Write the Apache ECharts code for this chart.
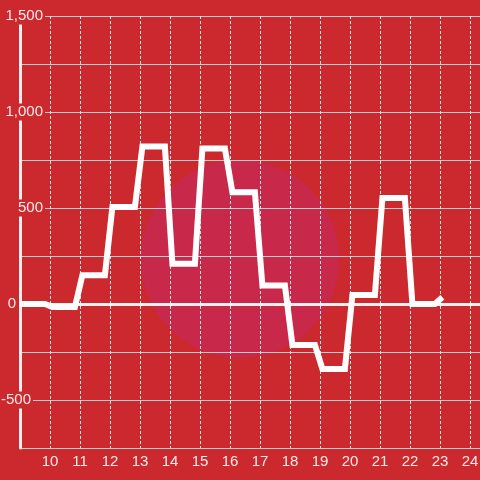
<!DOCTYPE html>
<html>
<head>
<meta charset="utf-8">
<script src="https://cdn.jsdelivr.net/npm/echarts@6/dist/echarts.min.js"></script>
<style>
  body { margin: 0; }
</style>
</head>
<body>
<div id="chart" style="width: 480px; height: 480px"></div>
<script>
// step-like hourly readings: each value held, then a short ramp to the next
const times = [9, 9.83, 10.08, 10.83, 11.08, 11.83, 12.08, 12.83, 13.08, 13.83,
  14.08, 14.83, 15.08, 15.83, 16.08, 16.83, 17.08, 17.83, 18.08, 18.83,
  19.08, 19.83, 20.08, 20.83, 21.08, 21.83, 22.08, 22.83, 23.08];
const values = [0, 0, -15, -15, 150, 150, 505, 505, 820, 820,
  210, 210, 810, 810, 582, 582, 97, 97, -213, -213,
  -338, -338, 47, 47, 552, 552, 0, 0, 35];
const xTicks = [10, 11, 12, 13, 14, 15, 16, 17, 18, 19, 20, 21, 22, 23, 24];
const yTicks = [1500, 1000, 500, 0, -500];
const yTickLabels = ["1,500", "1,000", "500", "0", "-500"];

const bg = "#cc292e";
const textColor = "rgba(255,255,255,0.9)";

const chart = echarts.init(document.getElementById("chart"));
const option = {
  backgroundColor: bg,
  animation: false,
  textStyle: { fontFamily: "Liberation Sans" },
  graphic: [
    {
      type: "circle",
      z: -10,
      shape: { cx: 240, cy: 259, r: 99 },
      style: { fill: "#c8284a" },
    },
  ],
  grid: {
    left: 20,
    right: 0,
    top: 16,
    bottom: 32,
    containLabel: false,
    outerBoundsMode: "none",
  },
  xAxis: {
    type: "value",
    min: 9,
    max: 24.333,
    interval: 1,
    axisLine: { show: false },
    axisTick: { show: false },
    axisLabel: {
      color: textColor,
      fontSize: 15,
      margin: 6,
      formatter: function (v) {
        return xTicks.indexOf(v) >= 0 ? String(v) : "";
      },
    },
    splitLine: {
      show: true,
      lineStyle: { color: "#e2e2e2", width: 1, type: [3, 2] },
    },
  },
  yAxis: {
    type: "value",
    min: -750,
    max: 1500,
    interval: 250,
    axisLine: {
      show: true,
      lineStyle: { color: "#eeeeee", width: 3 },
    },
    axisTick: { show: false },
    axisLabel: {
      color: textColor,
      fontSize: 15,
      margin: -25,
      formatter: function (v) {
        const i = yTicks.indexOf(v);
        if (i < 0) return "";
        if (v === 0) return "{a|" + yTickLabels[i] + "}{s0|}";
        if (v < 0) return "{a|" + yTickLabels[i] + "}{s1|}";
        return "{a|" + yTickLabels[i] + "}";
      },
      rich: {
        a: {
          color: textColor,
          fontSize: 15,
          backgroundColor: bg,
          padding: [1, 2, 1, 2],
        },
        s0: { width: 27 },
        s1: { width: 12 },
      },
    },
    splitLine: {
      show: true,
      lineStyle: { color: "#cccccc", width: 1 },
    },
  },
  series: [
    {
      type: "line",
      z: 3,
      data: times.map(function (t, i) {
        return [t, values[i]];
      }),
      showSymbol: false,
      symbol: "none",
      clip: false,
      lineStyle: {
        color: "#ffffff",
        width: 6,
        join: "miter",
      },
      markLine: {
        silent: true,
        z: 1,
        symbol: "none",
        label: { show: false },
        lineStyle: { color: "#f2f2f2", width: 3, type: "solid" },
        data: [{ yAxis: 0 }],
      },
    },
  ],
};
chart.setOption(option);
</script>
</body>
</html>
